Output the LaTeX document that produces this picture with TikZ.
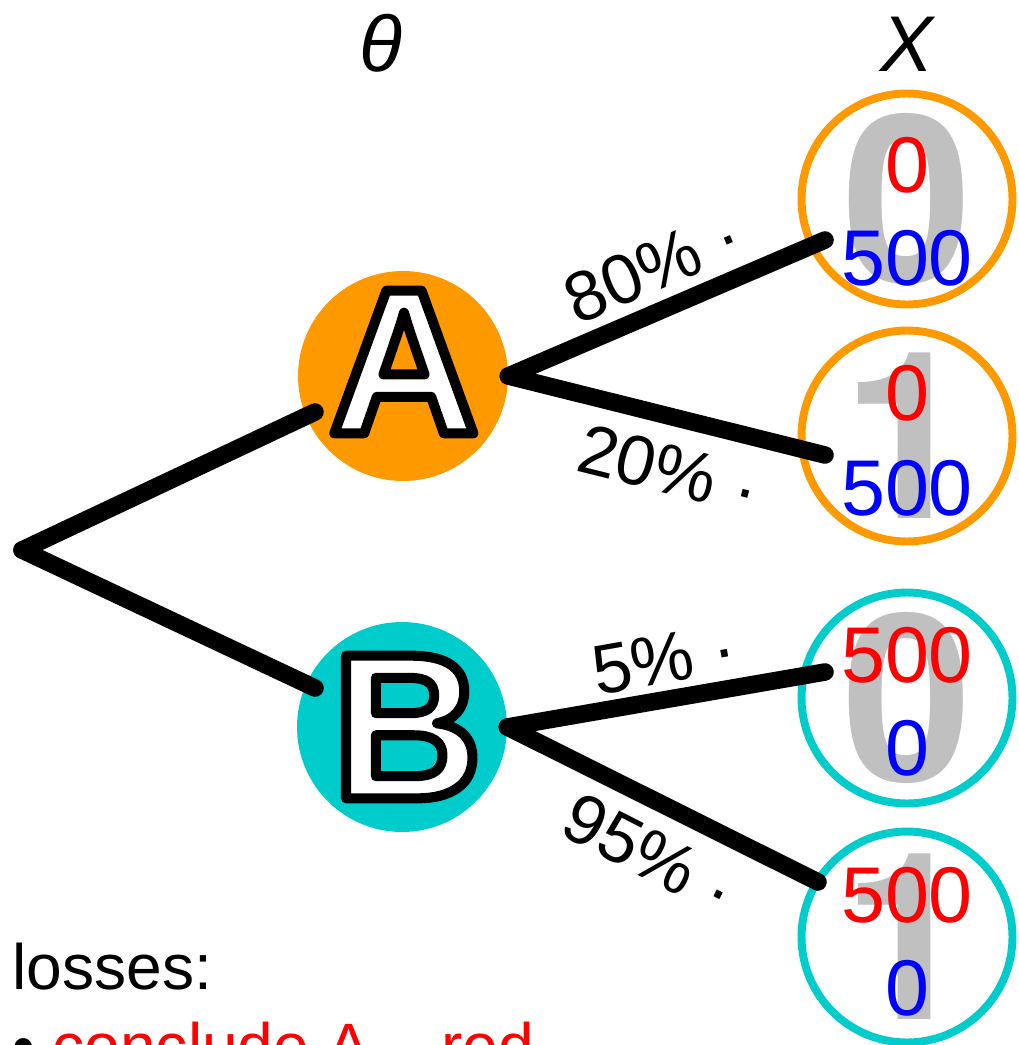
\documentclass[tikz,border=0pt]{standalone}
\usepackage{fontspec}
\setmainfont{Liberation Sans}
\newfontfamily\heros{TeX Gyre Heros}
\usepackage{tikz}
\usetikzlibrary{positioning,calc}

\definecolor{chanceA}{HTML}{FF9900}
\definecolor{chanceB}{HTML}{00CCCC}
\definecolor{digitgray}{HTML}{C0C0C0}

% white letter with a black stroke centred on its outline
\newcommand{\hollow}[1]{{\color{white}\special{pdf:code q 2 Tr 5.7 w 1 j 0 0 0 RG}#1\special{pdf:code Q}}}

\begin{document}
\begin{tikzpicture}[
  x=0.02cm, y=-0.02cm,
  hyp/.style={circle, inner sep=0pt, minimum size=4.2cm},
  outcome/.style={circle, draw, line width=4.5pt, inner sep=0pt, minimum size=4.22cm},
  branch/.style={line width=10pt, line cap=round},
  letter/.style={inner sep=0pt, font=\fontsize{118}{126}\selectfont\bfseries},
  bigdigit/.style={inner sep=0pt, text=digitgray, font=\heros\fontsize{133}{140}\selectfont\bfseries},
  loss/.style={anchor=base, inner sep=0pt, font=\fontsize{45}{54}\selectfont},
  prob/.style={inner sep=0pt, font=\fontsize{40}{48}\selectfont},
  head/.style={anchor=base, inner sep=0pt, font=\fontsize{45}{54}\selectfont\itshape},
  note/.style={anchor=base west, inner sep=0pt, font=\fontsize{36.5}{44}\selectfont}]

\useasboundingbox (0,0) rectangle (1018,1045);
\clip (0,0) rectangle (1018,1045);

% column heads
\node[head] (theta) at (381,71) {θ};
\node[head] (xlab) at (907,71) {X};

% hypotheses
\node[hyp, fill=chanceA] (A) at (403,376) {};
\node[letter] (Aname) at (404,362) {\hollow{A}};
\node[hyp, fill=chanceB] (B) at (402,727) {};
\node[letter] (Bname) at (407,727) {\hollow{B}};

% outcomes x = 0 / 1 under each hypothesis
\node[outcome, draw=chanceA] (a0) at (907,199) {};
\node[outcome, draw=chanceA] (a1) at (907,436) {};
\node[outcome, draw=chanceB] (b0) at (907,698) {};
\node[outcome, draw=chanceB] (b1) at (907,937) {};

\node[bigdigit] at (a0) {0};
\node[bigdigit] at (a1) {1};
\node[bigdigit] at (b0) {0};
\node[bigdigit] at (b1) {1};

% loss of each decision (red: conclude A, blue: conclude B)
\node[loss, text=red]  at ($(a0)+(0,-7)$) {0};
\node[loss, text=blue] at ($(a0)+(0,86)$) {500};
\node[loss, text=red]  at ($(a1)+(0,-16)$) {0};
\node[loss, text=blue] at ($(a1)+(0,79)$) {500};
\node[loss, text=red]  at ($(b0)+(0,-16)$) {500};
\node[loss, text=blue] at ($(b0)+(0,77)$) {0};
\node[loss, text=red]  at ($(b1)+(0,-15)$) {500};
\node[loss, text=blue] at ($(b1)+(0,78)$) {0};

% branch ends
\coordinate (root) at (22,550);
\coordinate (Ain) at (315,412);
\coordinate (Bin) at (315,688);
\coordinate (a0in) at (825,240);
\coordinate (a1in) at (825,455);
\coordinate (b0in) at (825,672);
\coordinate (b1in) at (818,882);

\draw[branch] (root) -- (Ain);
\draw[branch] (root) -- (Bin);
\draw[branch] (A.east) -- (a0in);
\draw[branch] (A.east) -- (a1in);
\draw[branch] (B.east) -- (b0in);
\draw[branch] (B.east) -- (b1in);

% likelihoods
\node[prob, rotate=23]  at (653,267) {80\% ·};
\node[prob, rotate=-14] at (669,469) {20\% ·};
\node[prob, rotate=10]  at (664,659) {5\% ·};
\node[prob, rotate=-27] at (650,854) {95\% ·};

% legend
\node[note] (losses) at (12,989) {losses:};
\node[note] (ruleA) at (12,1068) {• \textcolor{red}{conclude A – red}};
\end{tikzpicture}
\end{document}
